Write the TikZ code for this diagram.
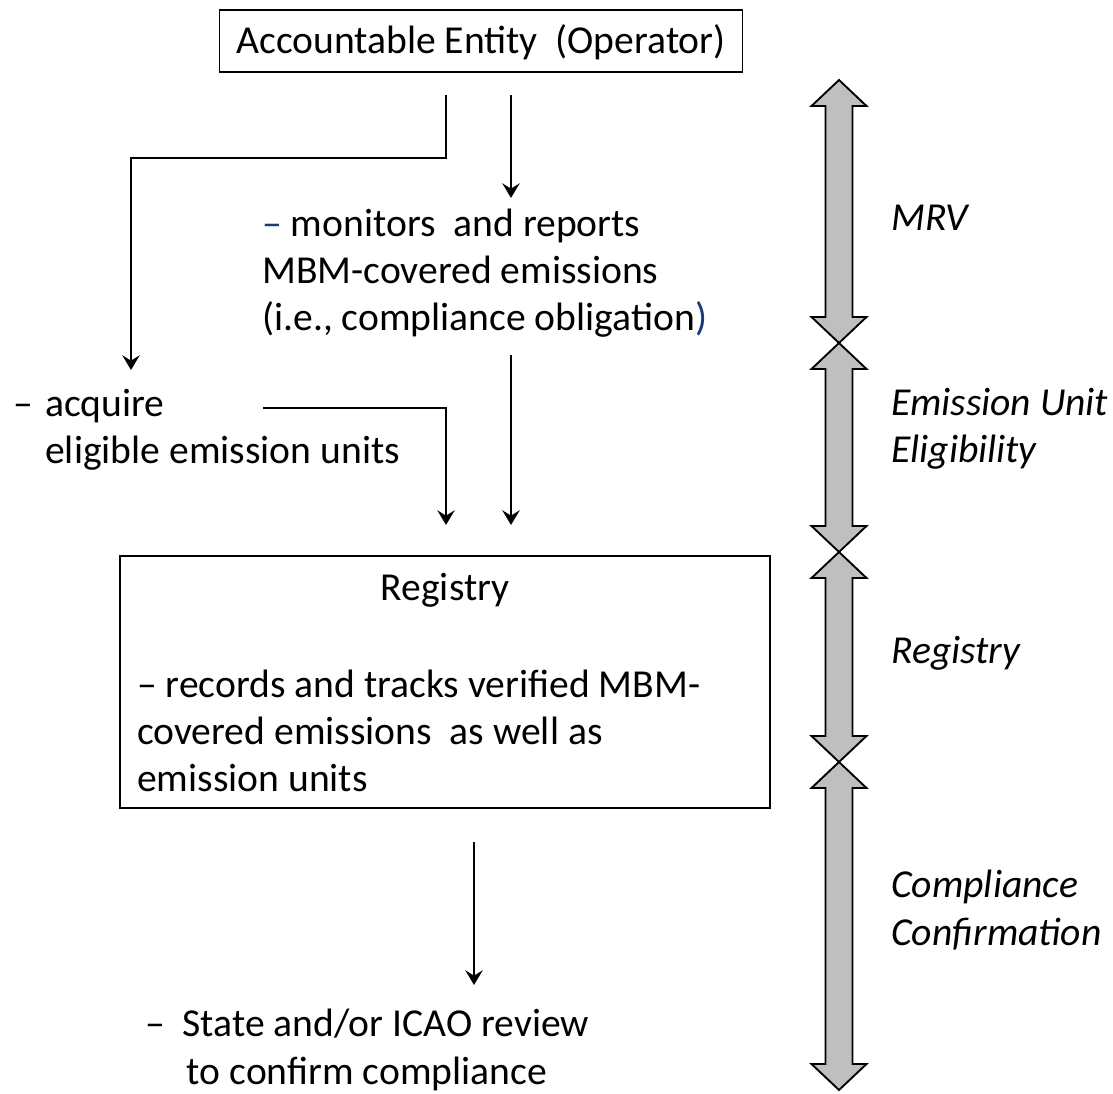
\documentclass[tikz,border=0pt]{standalone}
\usepackage{fontspec}
\setmainfont{Carlito}
\usetikzlibrary{arrows.meta}
\definecolor{dashblue}{RGB}{31,56,120}

\tikzset{
    txt/.style={font=\fontsize{29.7}{35.5}\selectfont, inner sep=0pt},
    lbl/.style={txt, font=\fontsize{29.7}{35.5}\selectfont\itshape, anchor=west, align=left},
    box/.style={draw, line width=1.1pt, inner sep=0pt},
    arr/.style={line width=1.5pt, -{Stealth[length=11pt,width=13pt,inset=4pt]}},
    band/.style={draw, line width=1.4pt, fill=black!25, line join=miter},
}

\begin{document}
\begin{tikzpicture}[x=0.75pt, y=-0.75pt]
    \useasboundingbox (0,0) rectangle (1113,1094);

    \node[box, minimum width=392pt, minimum height=46.5pt] (ent) at (481,41) {};
    \node[txt] (enttext) at (481,42) {Accountable Entity\ \ (Operator)};

    \node[txt, anchor=west, align=left] (mon) at (262,273)
        {{\color{dashblue}–} monitors\ \ and reports\\MBM-covered emissions\\(i.e., compliance obligation{\color{dashblue})}};

    \node[txt, anchor=west, align=left] (acq) at (45,430)
        {\llap{\makebox[24pt][l]{–}}acquire\\eligible emission units};

    \node[box, minimum width=487.5pt, minimum height=189pt] (reg) at (445,682) {};
    \node[txt] (regtitle) at (445,590) {Registry};
    \node[txt, anchor=west, align=left] (regtext) at (137,731)
        {– records and tracks verified MBM-\\covered emissions\ \ as well as\\emission units};

    \node[txt, align=center] (rev) at (367,1050)
        {–\ \ State and/or ICAO review\\to confirm compliance};

    \coordinate (e1) at (446,95);
    \coordinate (e2) at (511,95);
    \coordinate (monin) at (511,198);
    \coordinate (monout) at (511,355);
    \coordinate (acqin) at (131,370);
    \coordinate (acqout) at (263,408);
    \coordinate (reg1) at (446,525);
    \coordinate (reg2) at (511,525);
    \coordinate (regout) at (474,842);
    \coordinate (revin) at (474,985);

    \draw[arr] (e1) -- ++(0,63) -| (acqin);
    \draw[arr] (e2) -- (monin);
    \draw[arr] (monout) -- (reg2);
    \draw[arr] (acqout) -| (reg1);
    \draw[arr] (regout) -- (revin);

    \foreach \t/\b in {80/343, 343/552, 552/762, 762/1090} {
        \draw[band] (839,\t) -- (866.5,\t+26) -- (852.5,\t+26) -- (852.5,\b-26)
            -- (866.5,\b-26) -- (839,\b) -- (811.5,\b-26) -- (825.5,\b-26)
            -- (825.5,\t+26) -- (811.5,\t+26) -- cycle;
    }

    \node[lbl] (mrv) at (891,218) {MRV};
    \node[lbl] (elig) at (891,429) {Emission Unit\\Eligibility};
    \node[lbl] (regl) at (891,653) {Registry};
    \node[lbl] (conf) at (891,910) {Compliance\\Confirmation};
\end{tikzpicture}
\end{document}
